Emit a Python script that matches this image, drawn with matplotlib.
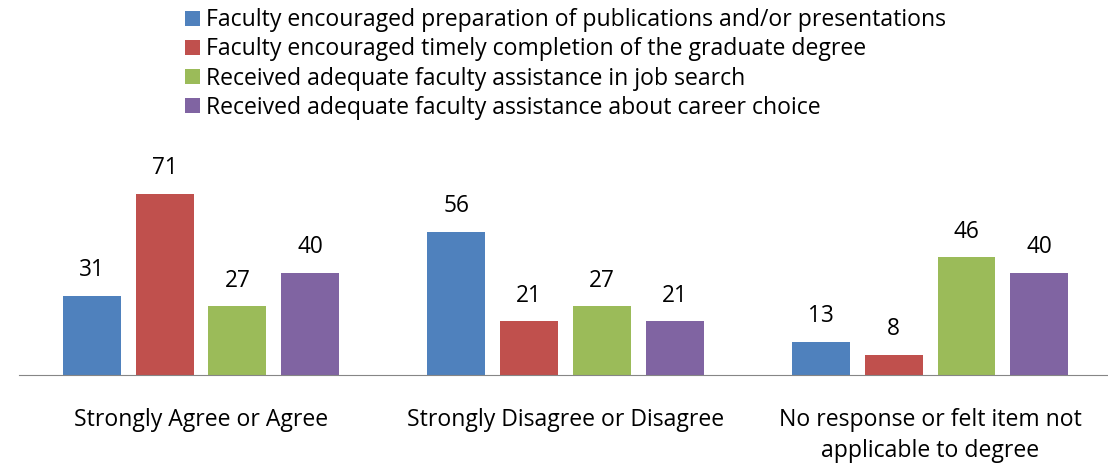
import numpy as np
import matplotlib.pyplot as plt

plt.rcParams['font.family'] = ['Open Sans', 'DejaVu Sans']

categories = ["Strongly Agree or Agree", "Strongly Disagree or Disagree",
              "No response or felt item not\napplicable to degree"]
series_names = ["Faculty encouraged preparation of publications and/or presentations",
                "Faculty encouraged timely completion of the graduate degree",
                "Received adequate faculty assistance in job search",
                "Received adequate faculty assistance about career choice"]
publications = [31, 56, 13]
completion = [71, 21, 8]
job_search = [27, 27, 46]
career = [40, 21, 40]
colors = ['#4F81BD', '#C0504D', '#9BBB59', '#8064A2']

values = [publications, completion, job_search, career]

fig = plt.figure(figsize=(11.08, 4.66), dpi=100)
ax = fig.add_axes([0.0169, 0.195, 0.987, 0.494])

x = np.arange(len(categories))
offsets = [-0.3, -0.1, 0.1, 0.3]
handles = []
for vals, off, col, name in zip(values, offsets, colors, series_names):
    bars = ax.bar(x + off, vals, width=0.159, color=col, label=name)
    handles.append(bars)
    for xi, v in zip(x + off, vals):
        ax.text(xi, v + 5.3, str(v), ha='center', va='bottom', fontsize=16.3)

ax.set_xlim(-0.5, 2.5)
ax.set_ylim(0, 90)
ax.set_xticks(x)
ax.set_xticklabels(categories, fontsize=16.6, linespacing=1.35)
ax.tick_params(axis='x', length=0, pad=24)
ax.set_yticks([])
for s in ['top', 'right', 'left']:
    ax.spines[s].set_visible(False)
ax.spines['bottom'].set_color('#868686')

fig.legend(handles=handles, loc='upper left', bbox_to_anchor=(0.167, 0.982),
           frameon=False, fontsize=16.6, handlelength=0.65, handleheight=0.65,
           handletextpad=0.26, labelspacing=0.22, borderpad=0, borderaxespad=0)

fig.savefig('out.png', dpi=100)
